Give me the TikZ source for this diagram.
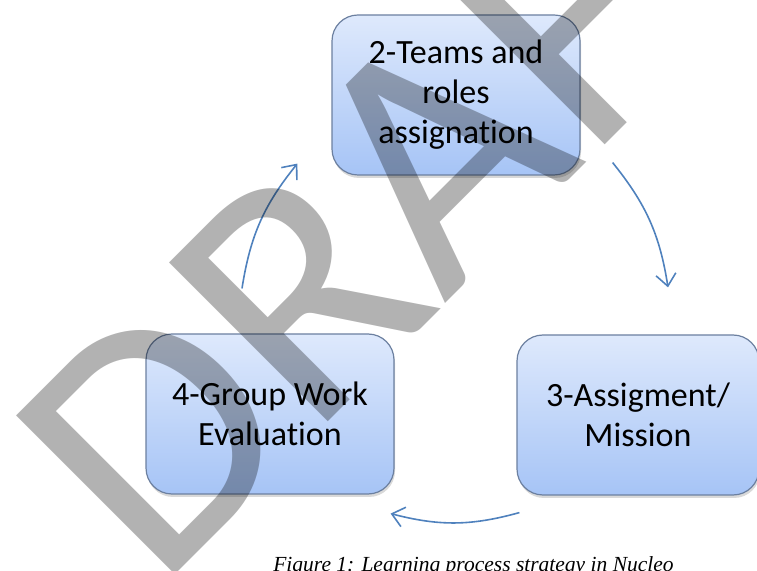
\documentclass[tikz,border=0pt]{standalone}
\usepackage{fontspec}
\setmainfont{Carlito}[Ligatures=NoCommon]
\newfontfamily\capfont{Liberation Serif}
\usetikzlibrary{arrows.meta,calc,shadows}

\definecolor{stagetop}{RGB}{222,233,252}
\definecolor{stagebot}{RGB}{166,196,246}
\definecolor{stageline}{RGB}{108,128,160}
\definecolor{flowblue}{RGB}{79,129,189}

\tikzset{
  stage/.style={draw=stageline, line width=1.2pt, rounded corners=26pt,
    top color=stagetop, bottom color=stagebot,
    minimum width=248pt, minimum height=160pt, align=center,
    font=\fontsize{34}{40}\selectfont,
    drop shadow={opacity=0.3, shadow xshift=1pt, shadow yshift=-3pt}},
  flow/.style={color=flowblue, line width=1.6pt},
  watermark/.style={inner sep=0pt, text=black!30, rotate=45,
    font=\fontsize{350}{350}\selectfont}
}

\begin{document}
\begin{tikzpicture}[x=1pt, y=1pt, >={Straight Barb[length=12pt,width=20pt]}, semithick]
    \clip (0,0) rectangle (757,570);

    \node[stage]                        (teams)   at (456,475) {2-Teams and\\roles\\assignation};
    \node[stage, minimum width=242pt]   (mission) at (638,155) {3-Assigment/\\Mission};
    \node[stage]                        (eval)    at (270,156) {4-Group Work\\Evaluation};

    % loose ends of the cycle arrows
    \coordinate (t1) at ($(teams.south west)+(-34,12)$);
    \coordinate (t2) at ($(teams.south east)+(32,13)$);
    \coordinate (m1) at ($(mission.north)+(30,47)$);
    \coordinate (m2) at ($(mission.south west)+(3,-17)$);
    \coordinate (e1) at ($(eval.south east)+(-4,-19)$);
    \coordinate (e2) at ($(eval.north)+(-28,45)$);

    \path[->, flow]  (t2)  edge  [bend left=15]  (m1)
                     (m2)  edge  [bend left=15]  (e1)
                     (e2)  edge  [bend left=15]  (t1);

    \node[anchor=base] (caption) at (473.5,-1)
        {\capfont\itshape\fontsize{21.5}{26}\selectfont Figure 1: Learning process strategy in Nucleo};

    \begin{scope}[blend mode=multiply]
        \node[watermark, anchor=base west] (draft) at (158,-21.5) {DRAFT};
    \end{scope}
\end{tikzpicture}
\end{document}
